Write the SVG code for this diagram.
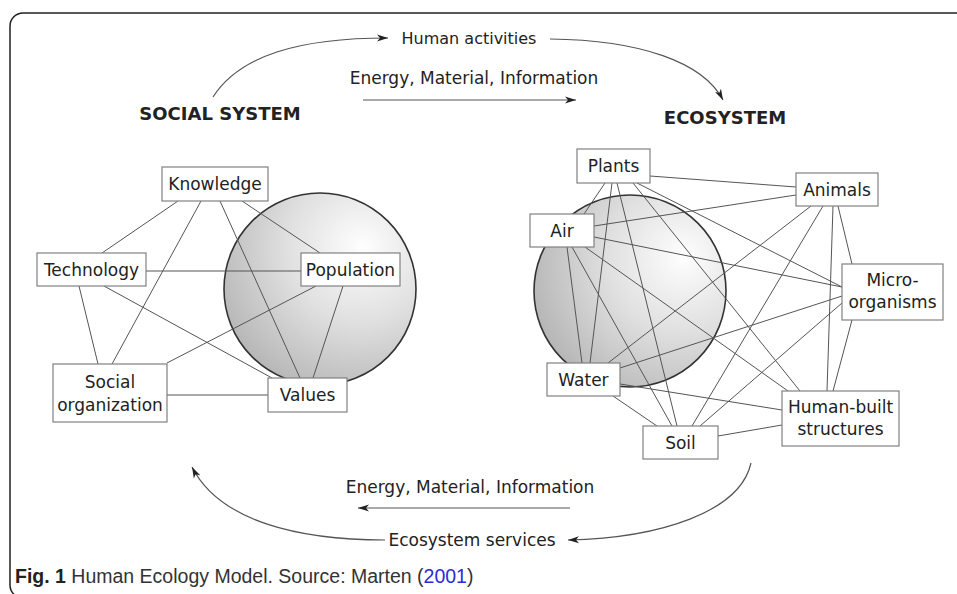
<svg xmlns="http://www.w3.org/2000/svg" width="957" height="594" viewBox="0 0 957 594">
<style>
  .box { fill: #fff; stroke: #808080; stroke-width: 1.2; }
  .lbl { font-family: "DejaVu Sans", "Liberation Sans", sans-serif; font-size: 17px; fill: #222; text-anchor: middle; }
  .arrlbl { font-family: "DejaVu Sans", "Liberation Sans", sans-serif; font-size: 17px; fill: #222; text-anchor: middle; }
  .title { font-family: "DejaVu Sans", "Liberation Sans", sans-serif; font-size: 18px; font-weight: bold; fill: #222; text-anchor: middle; }
  .edge { stroke: #555; stroke-width: 1; fill: none; }
  .flow { stroke: #555; stroke-width: 1.2; fill: none; marker-end: url(#ah); }
  .globe { stroke: #333; stroke-width: 1.6; }
  .cap { font-family: "Liberation Sans", "Arial", sans-serif; font-size: 19.5px; fill: #333; }
</style>
<defs>
  <radialGradient id="gL" cx="0.7" cy="0.3" r="0.85" fx="0.72" fy="0.28">
    <stop offset="0" stop-color="#fefefe"/>
    <stop offset="0.45" stop-color="#e0e0e0"/>
    <stop offset="1" stop-color="#b0b0b0"/>
  </radialGradient>
  <radialGradient id="gR" cx="0.75" cy="0.35" r="0.85" fx="0.78" fy="0.32">
    <stop offset="0" stop-color="#fefefe"/>
    <stop offset="0.45" stop-color="#e0e0e0"/>
    <stop offset="1" stop-color="#b0b0b0"/>
  </radialGradient>
  <marker id="ah" markerUnits="userSpaceOnUse" markerWidth="12" markerHeight="8" refX="11" refY="4" orient="auto">
    <path d="M0,0.5 L11,4 L0,7.5 L3,4 Z" fill="#222"/>
  </marker>
</defs>

<rect x="10" y="13" width="990" height="585" rx="13" fill="none" stroke="#222" stroke-width="1.5"/>

<g id="flows">
  <path class="flow" d="M213,97 C240,55 300,38 388,38"/>
  <path class="flow" d="M550,39 C640,40 703,62 723,100"/>
  <path class="flow" d="M363,100 L576,100"/>
  <path class="flow" d="M751,463 C740,512 660,538 568,540"/>
  <path class="flow" d="M570,508 L358,508"/>
  <path class="flow" d="M385,540 C300,540 220,522 192,467"/>
</g>

<g id="flow-labels">
  <text class="arrlbl" x="469" y="44" style="font-size:16px">Human activities</text>
  <text class="arrlbl" x="474" y="84">Energy, Material, Information</text>
  <text class="arrlbl" x="470" y="493">Energy, Material, Information</text>
  <text class="arrlbl" x="472" y="546">Ecosystem services</text>
</g>

<text class="title" x="220" y="120">SOCIAL SYSTEM</text>
<text class="title" x="725" y="124">ECOSYSTEM</text>

<circle id="globe-social" class="globe" cx="320" cy="289" r="96" fill="url(#gL)"/>
<circle id="globe-eco" class="globe" cx="630" cy="291" r="96" fill="url(#gR)"/>

<g id="connectors">
  <!-- social system -->
  <line class="edge" x1="178" y1="201" x2="102" y2="253"/>
  <line class="edge" x1="201" y1="201" x2="112" y2="364"/>
  <line class="edge" x1="220" y1="201" x2="300" y2="378"/>
  <line class="edge" x1="242" y1="201" x2="320" y2="253"/>
  <line class="edge" x1="146" y1="271" x2="301" y2="271"/>
  <line class="edge" x1="79" y1="286" x2="98" y2="364"/>
  <line class="edge" x1="104" y1="286" x2="272" y2="378"/>
  <line class="edge" x1="316" y1="286" x2="167" y2="363"/>
  <line class="edge" x1="343" y1="286" x2="313" y2="378"/>
  <line class="edge" x1="167" y1="395" x2="268" y2="395"/>
  <!-- ecosystem -->
  <line class="edge" x1="650" y1="176" x2="796" y2="187"/>
  <line class="edge" x1="605" y1="183" x2="584" y2="214"/>
  <line class="edge" x1="612" y1="183" x2="590" y2="363"/>
  <line class="edge" x1="617" y1="183" x2="677" y2="426"/>
  <line class="edge" x1="633" y1="183" x2="800" y2="391"/>
  <line class="edge" x1="637" y1="183" x2="842" y2="287"/>
  <line class="edge" x1="594" y1="226" x2="796" y2="195"/>
  <line class="edge" x1="567" y1="247" x2="582" y2="363"/>
  <line class="edge" x1="572" y1="247" x2="672" y2="426"/>
  <line class="edge" x1="585" y1="247" x2="788" y2="391"/>
  <line class="edge" x1="594" y1="237" x2="842" y2="287"/>
  <line class="edge" x1="811" y1="206" x2="608" y2="363"/>
  <line class="edge" x1="823" y1="206" x2="692" y2="426"/>
  <line class="edge" x1="833" y1="206" x2="827" y2="391"/>
  <line class="edge" x1="838" y1="206" x2="852" y2="264"/>
  <line class="edge" x1="842" y1="296" x2="620" y2="368"/>
  <line class="edge" x1="842" y1="303" x2="700" y2="426"/>
  <line class="edge" x1="852" y1="320" x2="833" y2="391"/>
  <line class="edge" x1="613" y1="396" x2="657" y2="426"/>
  <line class="edge" x1="620" y1="384" x2="782" y2="410"/>
  <line class="edge" x1="718" y1="436" x2="782" y2="425"/>
</g>

<g id="knowledge"><rect class="box" x="162" y="167" width="106" height="34"/><text class="lbl" x="215" y="190">Knowledge</text></g>
<g id="technology"><rect class="box" x="37" y="253" width="109" height="33"/><text class="lbl" x="91.5" y="276">Technology</text></g>
<g id="population"><rect class="box" x="301" y="253" width="99" height="33"/><text class="lbl" x="350.5" y="276">Population</text></g>
<g id="social-organization"><rect class="box" x="53" y="364" width="114" height="58"/><text class="lbl" x="110" y="388">Social</text><text class="lbl" x="110" y="411">organization</text></g>
<g id="values"><rect class="box" x="268" y="378" width="79" height="34"/><text class="lbl" x="307.5" y="401">Values</text></g>

<g id="plants"><rect class="box" x="577" y="149" width="73" height="34"/><text class="lbl" x="613.5" y="172">Plants</text></g>
<g id="animals"><rect class="box" x="796" y="173" width="82" height="33"/><text class="lbl" x="837" y="196">Animals</text></g>
<g id="air"><rect class="box" x="530" y="214" width="64" height="33"/><text class="lbl" x="562" y="237">Air</text></g>
<g id="micro-organisms"><rect class="box" x="842" y="264" width="101" height="56"/><text class="lbl" x="892.5" y="286">Micro-</text><text class="lbl" x="892.5" y="308">organisms</text></g>
<g id="water"><rect class="box" x="547" y="363" width="73" height="33"/><text class="lbl" x="583.5" y="386">Water</text></g>
<g id="human-built-structures"><rect class="box" x="782" y="391" width="117" height="55"/><text class="lbl" x="840.5" y="413">Human-built</text><text class="lbl" x="840.5" y="435">structures</text></g>
<g id="soil"><rect class="box" x="643" y="426" width="75" height="33"/><text class="lbl" x="680.5" y="449">Soil</text></g>

<text class="cap" x="15" y="583"><tspan font-weight="bold" fill="#222">Fig. 1</tspan> Human Ecology Model. Source: Marten (<tspan fill="#2b2bd6">2001</tspan>)</text>
</svg>
